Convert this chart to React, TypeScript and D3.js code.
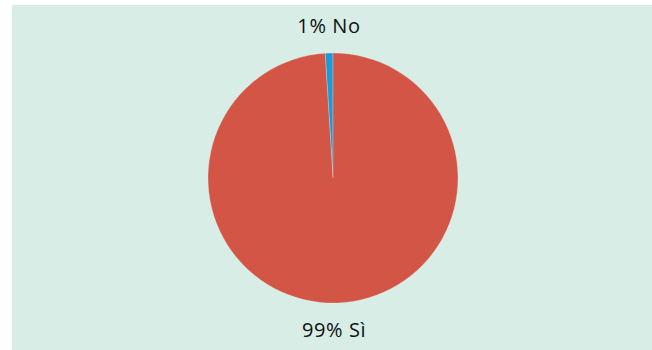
import React from "react";
import * as d3 from "d3";

const categories = ["No", "Sì"];
const values = [1, 99];
const labels = ["1% No", "99% Sì"];
const colors = ["#1a9ad6", "#d25545"];

export default function App() {
  const W = 652, H = 350;
  const cx = 333, cy = 178, r = 125;
  const pie = d3.pie<number>().sort(null).startAngle(-2 * Math.PI * values[0] / 100).endAngle(2 * Math.PI - 2 * Math.PI * values[0] / 100);
  const arcs = pie(values);
  const arc = d3.arc<d3.PieArcDatum<number>>().innerRadius(0).outerRadius(r);
  return (
    <svg width={W} height={H} style={{ position: "absolute", left: 0, top: 0 }}>
      <rect x={12} y={5} width={W - 12} height={H - 5} fill="#d7ede5" />
      <g transform={`translate(${cx},${cy})`}>
        {arcs.map((a, i) => (
          <path key={categories[i]} d={arc(a) || ""} fill={colors[i]} stroke="#e0eee8" strokeWidth={0.3} />
        ))}
      </g>
      <text x={329} y={33} textAnchor="middle" fontFamily="'Open Sans', sans-serif" fontSize={20} letterSpacing={0.6} fill="#111">{labels[0]}</text>
      <text x={334} y={337} textAnchor="middle" fontFamily="'Open Sans', sans-serif" fontSize={20} letterSpacing={0.6} fill="#111">{labels[1]}</text>
    </svg>
  );
}
